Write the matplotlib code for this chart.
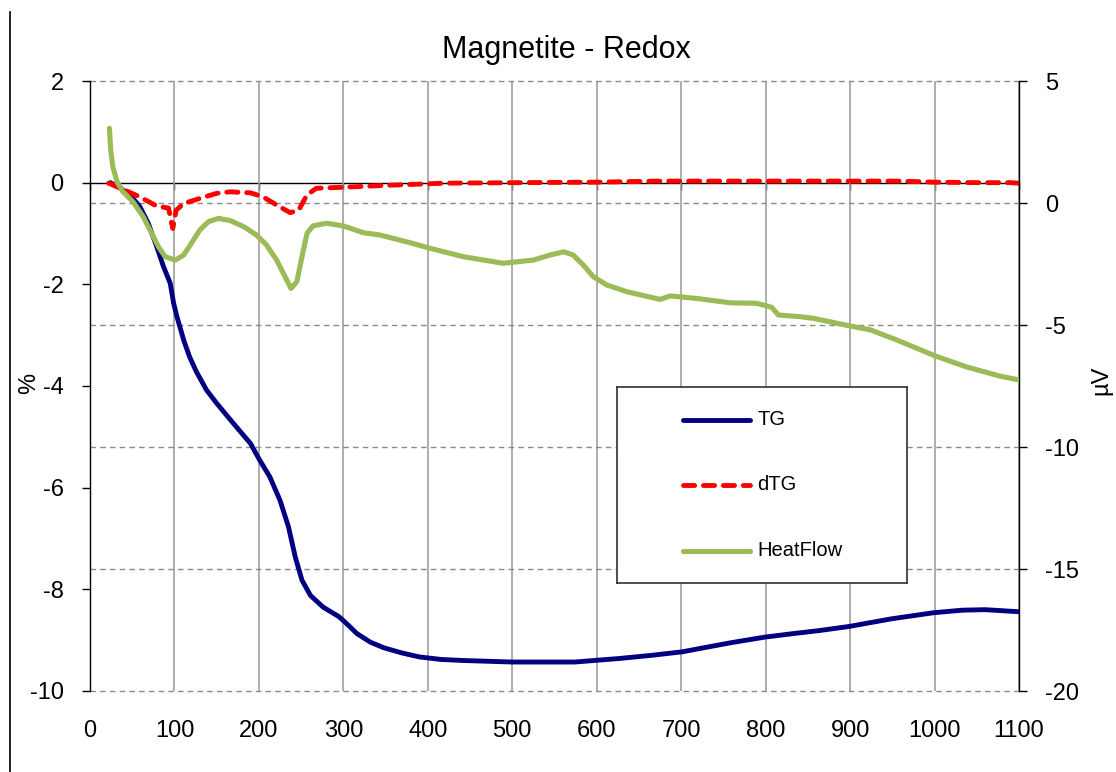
import matplotlib
matplotlib.use("Agg")
import matplotlib.pyplot as plt
from matplotlib.lines import Line2D
from matplotlib.transforms import blended_transform_factory

# Temperature (°C) and TG mass change (%)
tg_temp = [24, 36, 47, 59, 69, 79, 87, 95, 99, 103, 111, 118, 126, 138, 150,
           170, 190, 201, 213, 225, 235, 243, 251, 261, 276, 295, 308, 316,
           332, 348, 369, 390, 416, 442, 500, 537, 574, 627, 664, 701, 733,
           759, 799, 833, 864, 899, 949, 999, 1033, 1060, 1099]
tg_val = [0.0, -0.11, -0.24, -0.47, -0.80, -1.26, -1.65, -1.98, -2.37, -2.64,
          -3.10, -3.43, -3.72, -4.08, -4.34, -4.74, -5.13, -5.46, -5.79, -6.25,
          -6.77, -7.36, -7.82, -8.12, -8.35, -8.54, -8.74, -8.87, -9.04, -9.15,
          -9.25, -9.33, -9.38, -9.40, -9.43, -9.43, -9.43, -9.36, -9.30, -9.23,
          -9.13, -9.05, -8.94, -8.87, -8.81, -8.73, -8.58, -8.46, -8.41, -8.40,
          -8.44]

# Temperature (°C) and derivative dTG
dtg_temp = [22, 39, 59, 79, 93, 98, 102, 111, 130, 150, 166, 190, 205, 221,
            237, 247, 257, 268, 300, 355, 420, 505, 600, 671, 750, 850, 960,
            1000, 1050, 1090, 1100]
dtg_val = [-0.01, -0.13, -0.28, -0.46, -0.50, -0.90, -0.54, -0.41, -0.31,
           -0.21, -0.18, -0.20, -0.28, -0.44, -0.59, -0.54, -0.24, -0.11, -0.09,
           -0.05, -0.01, 0.0, 0.01, 0.03, 0.03, 0.03, 0.03, 0.01, 0.0, 0.0,
           -0.01]

# Temperature (°C) and heat flow (µV)
hf_temp = [23, 24.5, 27, 32, 39, 51, 63, 73, 81, 89, 101, 111, 120, 130, 140,
           152, 166, 182, 197, 209, 221, 231, 238, 245, 251, 257, 264, 280, 300,
           324, 343, 375, 403, 442, 489, 525, 545, 561, 572, 584, 596, 612, 636,
           675, 687, 718, 758, 789, 807, 815, 841, 857, 900, 924, 955, 1001,
           1038, 1078, 1100]
hf_val = [3.06, 2.17, 1.49, 0.87, 0.46, 0.05, -0.56, -1.24, -1.79, -2.20,
          -2.34, -2.13, -1.65, -1.11, -0.77, -0.63, -0.72, -0.97, -1.31, -1.72,
          -2.34, -3.02, -3.50, -3.22, -2.20, -1.24, -0.94, -0.83, -0.94, -1.22,
          -1.31, -1.59, -1.86, -2.20, -2.47, -2.34, -2.13, -2.00, -2.13, -2.54,
          -3.02, -3.36, -3.64, -3.95, -3.81, -3.91, -4.09, -4.11, -4.27, -4.59,
          -4.66, -4.73, -5.04, -5.20, -5.61, -6.27, -6.72, -7.10, -7.25]

x_ticks = list(range(0, 1101, 100))
left_ticks = [-10, -8, -6, -4, -2, 0, 2]
right_ticks = [-20, -15, -10, -5, 0, 5]

plt.rcParams['font.family'] = ['Liberation Sans', 'DejaVu Sans']
plt.rcParams['axes.unicode_minus'] = False

W, H = 1116, 772
fig = plt.figure(figsize=(W / 100, H / 100), dpi=100)
ax = fig.add_axes([90 / W, 1 - 691 / H, 929 / W, 610 / H])
ax2 = ax.twinx()

ax.set_xlim(0, 1100)
ax.set_ylim(-10, 2)
ax2.set_ylim(-20, 5)

# vertical grid
ax.set_xticks(x_ticks)
ax.grid(axis='x', color='#a0a0a0', linewidth=1.2, linestyle='-')
ax.set_axisbelow(True)

# dashed horizontal grid following the right-hand scale
gtrans = blended_transform_factory(ax.transAxes, ax2.transData)
for v in right_ticks:
    ax.plot([0, 1], [v, v], transform=gtrans, color='#8a8a8a', linewidth=1.0,
            linestyle=(0, (4, 3)), zorder=0.6, clip_on=False)

# x-axis line through zero with tick marks
sec = ax.secondary_xaxis(0, transform=ax.transData)
sec.set_xticks(x_ticks)
sec.tick_params(axis='x', direction='out', length=5, width=1, labelbottom=False,
                color='black')
sec.spines['bottom'].set_linewidth(1.0)
sec.spines['bottom'].set_color('black')

# data
ax.plot(tg_temp, tg_val, color='#000080', linewidth=3.5, solid_joinstyle='round',
        solid_capstyle='round', zorder=3)
ax.plot(dtg_temp, dtg_val, color='#ff0000', linewidth=3.5, dashes=(2.3, 1.8),
        dash_capstyle='round', dash_joinstyle='round', zorder=4)
ax2.plot(hf_temp, hf_val, color='#9bbb59', linewidth=3.7, solid_joinstyle='round',
         solid_capstyle='round', zorder=3)

# spines and ticks
for a in (ax, ax2):
    a.spines['top'].set_visible(False)
    a.spines['bottom'].set_visible(False)
ax.spines['right'].set_visible(False)
ax2.spines['left'].set_visible(False)
ax.spines['left'].set_color('black')
ax2.spines['right'].set_color('black')
ax.spines['left'].set_linewidth(1.0)
ax2.spines['right'].set_linewidth(1.0)

ax.set_yticks(left_ticks)
ax2.set_yticks(right_ticks)
ax.tick_params(axis='x', length=0, pad=21, labelsize=17)
ax.tick_params(axis='y', direction='out', length=6, width=1, pad=13, labelsize=17)
ax2.tick_params(axis='y', direction='out', length=6, width=1, pad=13, labelsize=17)

# titles and axis captions
fig.text(566 / W, 1 - 50 / H, 'Magnetite - Redox', ha='center', va='center',
         fontsize=22)
fig.text(29 / W, 1 - 383 / H, '%', rotation=90, ha='center', va='center',
         fontsize=17)
fig.text(1101 / W, 1 - 380 / H, 'µV', rotation=90, ha='center', va='center',
         fontsize=17)

# legend panel
lax = fig.add_axes([617 / W, 1 - 583 / H, 290 / W, 196 / H])
lax.set_xlim(0, 290)
lax.set_ylim(196, 0)
lax.set_xticks([])
lax.set_yticks([])
for s in lax.spines.values():
    s.set_color('#303030')
    s.set_linewidth(1.2)
entries = [('TG', dict(color='#000080', linewidth=3.5, solid_capstyle='round')),
           ('dTG', dict(color='#ff0000', linewidth=3.5, dashes=(2.3, 1.8),
                        dash_capstyle='round')),
           ('HeatFlow', dict(color='#9bbb59', linewidth=3.7, solid_capstyle='round'))]
for i, (name, style) in enumerate(entries):
    yy = 32.5 + i * 65.5
    lax.plot([66, 133], [yy, yy], **style)
    lax.text(140, yy, name, va='center', ha='left', fontsize=14.5)

# outer frame edge
fig.add_artist(Line2D([10 / W, 10 / W], [0, 1 - 12 / H], transform=fig.transFigure,
                      color='black', linewidth=1.2))

fig.savefig('out.png', dpi=100)
